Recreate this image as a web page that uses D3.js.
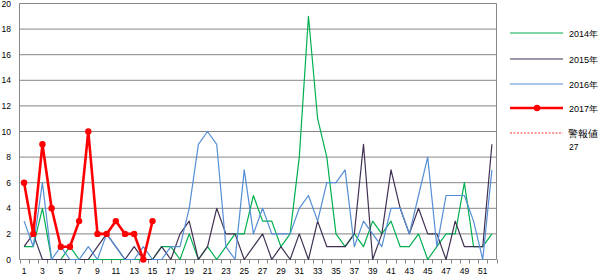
<!DOCTYPE html>
<html>
<head>
<meta charset="utf-8">
<script src="https://cdn.jsdelivr.net/npm/d3@7"></script>
<style>
  body { margin: 0; background: #fff; }
  text { font-family: "Liberation Sans", Arial, sans-serif; fill: #000; }
</style>
</head>
<body>
<div id="chart"></div>
<script>
// weekly counts, week 1..52
var weeks = d3.range(1, 53);
var tickWeeks = d3.range(1, 53, 2);
var yTicks = [0, 2, 4, 6, 8, 10, 12, 14, 16, 18, 20];

var s2014 = [1,1,4,0,0,1,0,0,0,0,0,0,0,0,0,1,1,0,2,0,1,0,1,2,2,5,3,3,1,2,8,19,11,8,2,1,2,1,3,2,3,1,1,2,0,1,2,2,6,1,1,2];
var s2015 = [1,2,0,0,0,0,0,0,1,2,1,0,1,0,0,1,0,2,3,0,1,4,2,2,0,1,2,0,1,0,2,0,3,1,1,1,2,9,0,2,7,4,2,4,2,2,0,3,1,1,1,9];
var s2016 = [3,1,6,0,1,0,0,1,0,2,1,0,0,1,0,0,1,1,4,9,10,9,1,0,7,2,4,2,2,2,4,5,3,6,6,7,1,3,2,1,4,4,2,5,8,1,5,5,5,3,0,7];
var s2017 = [6,2,9,4,1,1,3,10,2,2,3,2,2,0,3];
var alertValue = 27;

var seriesNames = ["2014年", "2015年", "2016年", "2017年"];
var seriesData = [s2014, s2015, s2016, s2017];
var seriesColors = ["#00b050", "#403152", "#558ed5", "#ff0000"];

var width = 598, height = 276;

var svg = d3.select("#chart")
  .append("svg")
    .attr("width", width)
    .attr("height", height)

var x = d3.scaleLinear().domain([0.5, 52.5]).range([19.5, 496.5]);
var y = d3.scaleLinear().domain([0, 20]).range([259.5, 3.5]);

// gridlines
svg.append("g")
  .selectAll("line")
  .data(yTicks)
  .enter()
  .append("line")
    .attr("x1", x(0.5))
    .attr("x2", x(52.5))
    .attr("y1", d => y(d))
    .attr("y2", d => y(d))
    .attr("stroke", "#868686")
    .attr("stroke-width", 1)

// right border + y axis line
svg.append("line")
  .attr("x1", x(52.5)).attr("x2", x(52.5))
  .attr("y1", y(20)).attr("y2", y(0))
  .attr("stroke", "#868686")
svg.append("line")
  .attr("x1", x(0.5)).attr("x2", x(0.5))
  .attr("y1", y(20)).attr("y2", y(0))
  .attr("stroke", "#868686")

// y labels
svg.append("g")
  .selectAll("text")
  .data(yTicks)
  .enter()
  .append("text")
    .attr("x", 11)
    .attr("y", d => y(d) + 3)
    .attr("text-anchor", "end")
    .style("font-size", "8.5px")
    .text(d => d)

// x axis ticks between categories
svg.append("g")
  .selectAll("line")
  .data(d3.range(0, 53))
  .enter()
  .append("line")
    .attr("x1", d => Math.round(x(d + 0.5)) + 0.5)
    .attr("x2", d => Math.round(x(d + 0.5)) + 0.5)
    .attr("y1", y(0))
    .attr("y2", y(0) + 4)
    .attr("stroke", "#868686")

svg.append("g")
  .selectAll("text")
  .data(tickWeeks)
  .enter()
  .append("text")
    .attr("x", d => x(d))
    .attr("y", 274)
    .attr("text-anchor", "middle")
    .style("font-size", "8.5px")
    .text(d => d)

// series lines
var line = d3.line()
  .x((d, i) => x(weeks[i]))
  .y(d => y(d));

seriesData.forEach(function(vals, k) {
  svg.append("path")
    .datum(vals)
    .attr("fill", "none")
    .attr("stroke", seriesColors[k])
    .attr("stroke-width", k == 3 ? 2.6 : 1.2)
    .attr("stroke-linejoin", "round")
    .attr("d", line)
});

svg.append("g")
  .selectAll("circle")
  .data(s2017)
  .enter()
  .append("circle")
    .attr("cx", (d, i) => x(weeks[i]))
    .attr("cy", d => y(d))
    .attr("r", 3.2)
    .attr("fill", "#ff0000")

// legend
var legendY = [33, 59, 84, 108];
var legend = svg.append("g");
seriesNames.forEach(function(name, k) {
  legend.append("line")
    .attr("x1", 510).attr("x2", 563)
    .attr("y1", legendY[k]).attr("y2", legendY[k])
    .attr("stroke", seriesColors[k])
    .attr("stroke-width", k == 3 ? 2.6 : 1.2)
  if (k == 3) {
    legend.append("circle")
      .attr("cx", 537).attr("cy", legendY[k]).attr("r", 3.2)
      .attr("fill", "#ff0000")
  }
  legend.append("text")
    .attr("x", 569).attr("y", legendY[k] + 3.5)
    .style("font-size", "9px")
    .text(name)
});
legend.append("line")
  .attr("x1", 510).attr("x2", 563)
  .attr("y1", 133).attr("y2", 133)
  .attr("stroke", "#ff0000")
  .attr("stroke-width", 0.8)
  .attr("stroke-dasharray", "2,1.5")
legend.append("text")
  .attr("x", 568).attr("y", 137)
  .style("font-size", "9.5px")
  .text("警報値")
legend.append("text")
  .attr("x", 569).attr("y", 150)
  .style("font-size", "8.5px")
  .text(alertValue)
</script>
</body>
</html>
